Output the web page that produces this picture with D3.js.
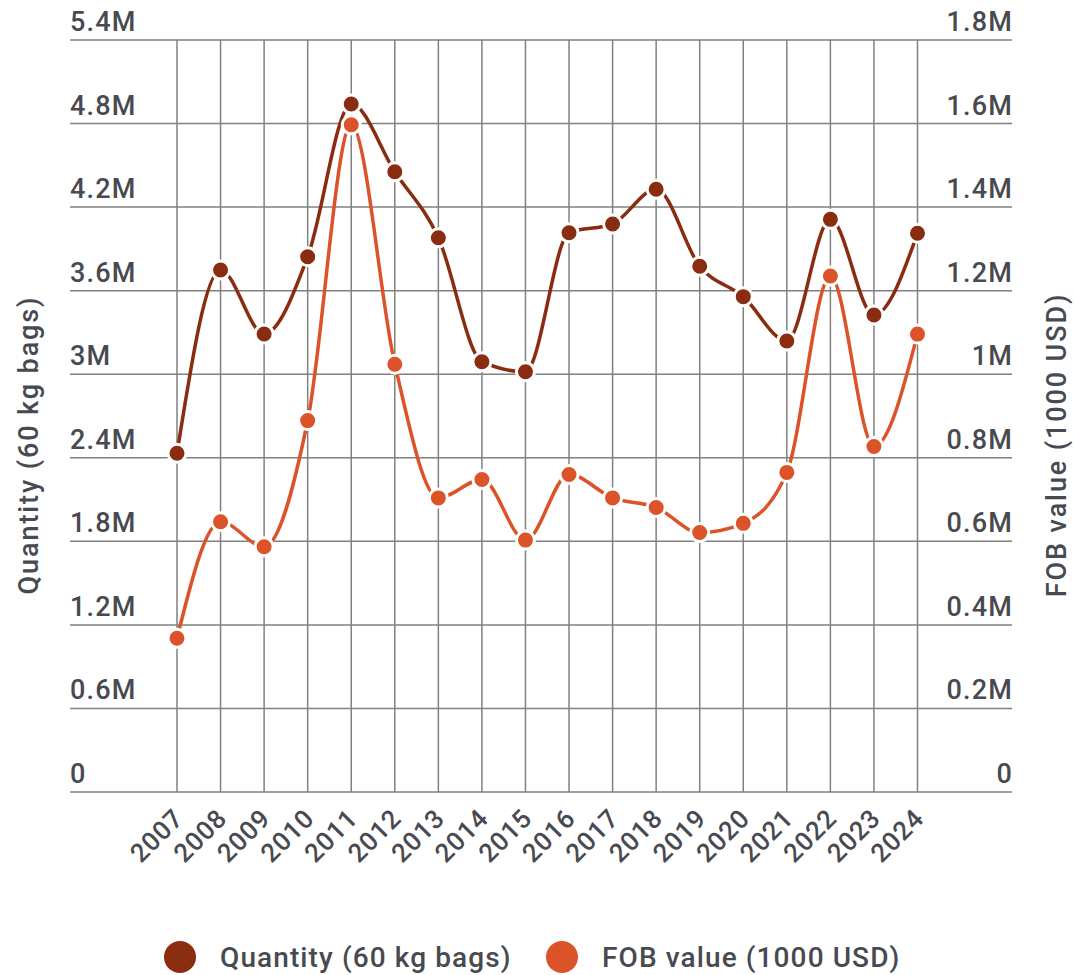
<!DOCTYPE html>
<html>
<head>
<meta charset="utf-8">
<script src="https://cdn.jsdelivr.net/npm/d3@7"></script>
<style>
	body { margin: 0; background: #fff; }
	text { font-family: Roboto, "Noto Sans", sans-serif; fill: #474a50; font-weight: 500; }
</style>
</head>
<body>
<svg id="chart" width="1074" height="975"></svg>
<script>
var years = ['2007', '2008', '2009', '2010', '2011', '2012', '2013', '2014', '2015',
	'2016', '2017', '2018', '2019', '2020', '2021', '2022', '2023', '2024'];
var quantity = [2432000, 3748000, 3289000, 3844000, 4940000, 4454000, 3980000, 3090000, 3018000,
	4016000, 4079000, 4328000, 3775000, 3557000, 3239000, 4112000, 3425000, 4012000];
var fobValue = [368000, 647000, 587000, 889000, 1597000, 1024000, 704000, 748000, 603000,
	760000, 704000, 681000, 621000, 643000, 765000, 1235000, 827000, 1096000];
var leftTicks = [0, 600000, 1200000, 1800000, 2400000, 3000000, 3600000, 4200000, 4800000, 5400000];
var rightTicks = [0, 200000, 400000, 600000, 800000, 1000000, 1200000, 1400000, 1600000, 1800000];
var seriesNames = ['Quantity (60 kg bags)', 'FOB value (1000 USD)'];
var seriesColors = ['#8a2c10', '#dc5229'];

var svg = d3.select('#chart');
var plotTop = 40, plotBottom = 792, plotLeft = 70, plotRight = 1012;

var x = d3.scalePoint().domain(years).range([177, 917.5]);
var yLeft = d3.scaleLinear().domain([0, 5400000]).range([plotBottom, plotTop]);
var yRight = d3.scaleLinear().domain([0, 1800000]).range([plotBottom, plotTop]);

function fmt(v) {
	if (v === 0) return '0';
	return d3.format('~g')(v / 1000000) + 'M';
}

// grid
var grid = svg.append('g').attr('stroke', '#808080').attr('stroke-width', 1.5);
grid.selectAll('line.h').data(leftTicks).enter().append('line')
	.attr('x1', plotLeft).attr('x2', plotRight)
	.attr('y1', function(d) { return yLeft(d); }).attr('y2', function(d) { return yLeft(d); });
grid.selectAll('line.v').data(years).enter().append('line')
	.attr('x1', function(d) { return x(d); }).attr('x2', function(d) { return x(d); })
	.attr('y1', plotTop).attr('y2', plotBottom);

// left tick labels
svg.append('g').selectAll('text').data(leftTicks).enter().append('text')
	.attr('x', plotLeft).attr('y', function(d) { return yLeft(d) - 9; })
	.style('font-size', '27px').style('letter-spacing', '1.2px')
	.text(fmt);

// right tick labels
svg.append('g').selectAll('text').data(rightTicks).enter().append('text')
	.attr('x', plotRight + 1).attr('y', function(d) { return yRight(d) - 9; })
	.attr('text-anchor', 'end')
	.style('font-size', '27px').style('letter-spacing', '1.2px')
	.text(fmt);

// x labels
svg.append('g').selectAll('text').data(years).enter().append('text')
	.attr('transform', function(d) { return 'translate(' + (x(d) + 8) + ',820) rotate(-45)'; })
	.attr('text-anchor', 'end')
	.style('font-size', '26px').style('letter-spacing', '0.8px')
	.text(function(d) { return d; });

// axis titles
svg.append('text')
	.attr('transform', 'translate(38,445) rotate(-90)')
	.attr('text-anchor', 'middle')
	.style('font-size', '27px').style('letter-spacing', '1.9px')
	.text(seriesNames[0]);
svg.append('text')
	.attr('transform', 'translate(1066,445) rotate(-90)')
	.attr('text-anchor', 'middle')
	.style('font-size', '27px').style('letter-spacing', '1.9px')
	.text(seriesNames[1]);

// lines and markers
function drawSeries(values, scale, color) {
	var line = d3.line()
		.x(function(d, i) { return x(years[i]); })
		.y(function(d) { return scale(d); })
		.curve(d3.curveMonotoneX);
	svg.append('path').datum(values)
		.attr('d', line).attr('fill', 'none')
		.attr('stroke', color).attr('stroke-width', 3.5);
	svg.append('g').selectAll('circle').data(values).enter().append('circle')
		.attr('cx', function(d, i) { return x(years[i]); })
		.attr('cy', function(d) { return scale(d); })
		.attr('r', 9).attr('fill', color)
		.attr('stroke', '#fff').attr('stroke-width', 3);
}
drawSeries(quantity, yLeft, seriesColors[0]);
drawSeries(fobValue, yRight, seriesColors[1]);

// legend
var legendX = [180, 562];
var legend = svg.append('g').selectAll('g').data(seriesNames).enter().append('g')
	.attr('transform', function(d, i) { return 'translate(' + legendX[i] + ',957)'; });
legend.append('circle').attr('r', 16).attr('fill', function(d, i) { return seriesColors[i]; });
legend.append('text').attr('x', 40).attr('y', 10)
	.style('font-size', '28px').style('letter-spacing', '1.1px')
	.text(function(d) { return d; });
</script>
</body>
</html>
